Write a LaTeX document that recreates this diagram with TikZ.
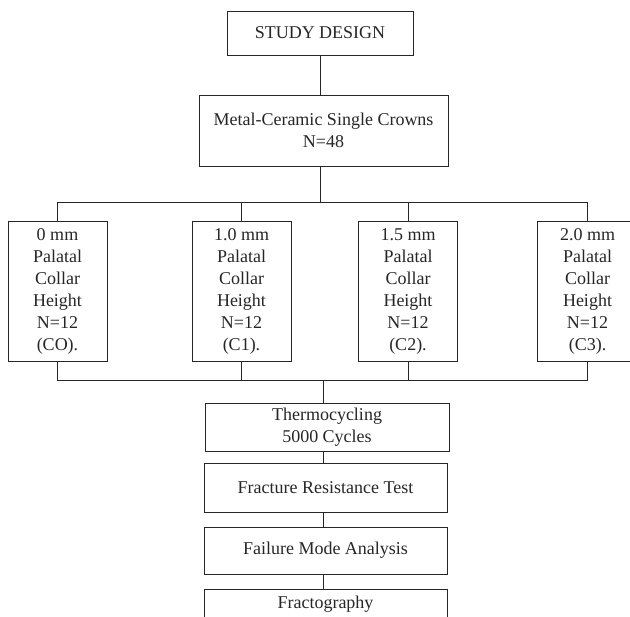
\documentclass[tikz,border=0pt]{standalone}
\usepackage{fontspec}
\setmainfont{Liberation Serif}
\begin{document}
\begin{tikzpicture}[x=1pt,y=-1pt,
    box/.style={draw=black!85,line width=0.9pt,align=center,inner sep=0pt,
      text=black!85,font=\fontsize{18}{22}\selectfont},
    group/.style={box,minimum width=99,minimum height=140},
    stage/.style={box,minimum width=243,minimum height=48},
    link/.style={draw=black!85,line width=0.9pt}]
  \useasboundingbox (0,0) rectangle (630,617);
  \node[box,minimum width=186,minimum height=44] (design) at (320,33) {STUDY DESIGN};
  \node[box,minimum width=249,minimum height=71] (crowns) at (323.5,130.5) {Metal-Ceramic Single Crowns\\N=48};
  \node[group] (g0) at (57.5,291) {0 mm\\Palatal\\Collar\\Height\\N=12\\(CO).};
  \node[group] (g1) at (241.5,291) {1.0 mm\\Palatal\\Collar\\Height\\N=12\\(C1).};
  \node[group] (g2) at (408,291) {1.5 mm\\Palatal\\Collar\\Height\\N=12\\(C2).};
  \node[group,minimum width=100] (g3) at (587.5,291) {2.0 mm\\Palatal\\Collar\\Height\\N=12\\(C3).};
  \coordinate (split) at (320,202);
  \coordinate (merge) at (323,380);
  \node[stage,minimum width=244] (thermo) at (327,427) {Thermocycling\\5000 Cycles};
  \node[stage,minimum height=49] (fracture) at (325.5,487.5) {Fracture Resistance Test};
  \node[stage,minimum height=47] (failure) at (325.5,550.5) {Failure Mode Analysis};
  \node[stage,minimum height=30,anchor=north] (fracto) at (325.5,589) {Fractography};
  \draw[link] (design.south -| split) -- (crowns.north -| split);
  \draw[link] (crowns.south -| split) -- (split);
  \foreach \g in {g0,g1,g2,g3}
    \draw[link] (\g.north) |- (split);
  \foreach \g in {g0,g1,g2,g3}
    \draw[link] (\g.south) |- (merge);
  \draw[link] (merge) -- (merge |- thermo.north);
  \draw[link] (merge |- thermo.south) -- (merge |- fracture.north);
  \draw[link] (merge |- fracture.south) -- (merge |- failure.north);
  \draw[link] (merge |- failure.south) -- (merge |- fracto.north);
\end{tikzpicture}
\end{document}
